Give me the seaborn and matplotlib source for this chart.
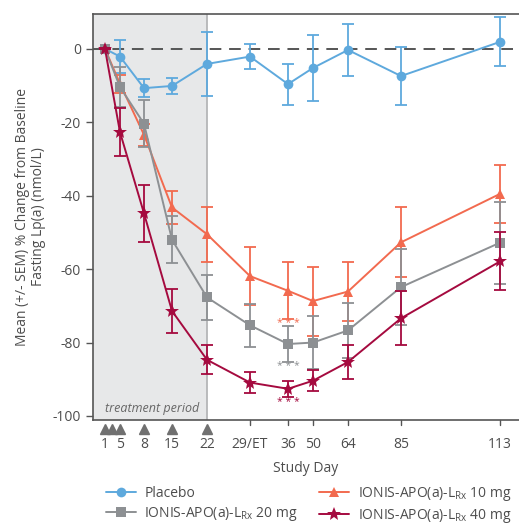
import numpy as np
import pandas as pd
import matplotlib
matplotlib.use("Agg")
import matplotlib.pyplot as plt
import seaborn as sns

# Dados (% de mudança média e SEM)
days = ["1", "5", "8", "15", "22", "29/ET", "36", "50", "64", "85", "113"]
placebo = [0, -2.1, -10.7, -10.1, -4.1, -2.1, -9.6, -5.2, -0.3, -7.4, 1.9]
placebo_sem = [0, 4.6, 2.4, 2.3, 8.7, 3.5, 5.6, 8.9, 7.0, 8.0, 6.7]
mg10 = [0, -9.5, -23.4, -43.2, -50.5, -61.9, -65.9, -68.7, -66.1, -52.7, -39.5]
mg10_sem = [0, 2.5, 3.0, 4.5, 7.5, 8.0, 7.8, 9.4, 8.0, 9.5, 7.9]
mg20 = [0, -10.4, -20.4, -52.0, -67.7, -75.3, -80.4, -80.0, -76.7, -64.9, -52.8]
mg20_sem = [0, 5.4, 6.4, 6.4, 6.2, 5.8, 4.9, 7.3, 7.4, 10.3, 11.2]
mg40 = [0, -22.7, -44.8, -71.4, -84.7, -90.9, -92.6, -90.4, -85.3, -73.4, -57.9]
mg40_sem = [0, 6.5, 7.7, 6.0, 3.9, 2.9, 2.1, 2.8, 4.6, 7.4, 7.9]
dose_days = ["1", "3", "5", "8", "15", "22"]

# Escala irregular do eixo x (posição de cada dia no eixo)
day_pos = {"1": 105, "3": 112, "5": 120, "8": 144, "15": 172, "22": 207,
           "29/ET": 250, "36": 288, "50": 313, "64": 348, "85": 401, "113": 500}

series = [
    ("Placebo", placebo, placebo_sem, "#5EA9DD", "o", 7),
    ("IONIS-APO(a)-L$_{\\mathregular{Rx}}$ 10 mg", mg10, mg10_sem, "#F26A4F", "^", 7),
    ("IONIS-APO(a)-L$_{\\mathregular{Rx}}$ 20 mg", mg20, mg20_sem, "#8D9093", "s", 6.5),
    ("IONIS-APO(a)-L$_{\\mathregular{Rx}}$ 40 mg", mg40, mg40_sem, "#A50A3F", "*", 10),
]

rows = []
for name, vals, sems, _, _, _ in series:
    for d, v, s in zip(days, vals, sems):
        rows.append({"grupo": name, "dia": day_pos[d], "media": v, "sem": s})
df = pd.DataFrame(rows)

sns.set_theme(style="ticks")
plt.rcParams["font.family"] = ["Open Sans", "DejaVu Sans"]
plt.rcParams["mathtext.fontset"] = "custom"
plt.rcParams["mathtext.rm"] = "Open Sans"
text_color = "#4D4D4D"

fig = plt.figure(figsize=(5.19, 5.26), dpi=100)
ax = fig.add_axes([93 / 519, 1 - 420 / 526, (519 - 93) / 519, (420 - 14) / 526])

# Período de tratamento
ax.axvspan(93, day_pos["22"], color="#E7E8E9", zorder=0, lw=0)
ax.axvline(day_pos["22"], color="#B5B6B8", lw=1.3, zorder=1)
ax.axhline(0, color="#555555", lw=1.4, ls=(0, (6, 4)), zorder=1)

for i, (name, vals, sems, c, m, ms) in enumerate(series):
    sub = df[df["grupo"] == name]
    ax.errorbar(sub["dia"], sub["media"], yerr=sub["sem"], fmt="none",
                ecolor=c, elinewidth=1.3, capsize=4.5, capthick=1.3, zorder=2 + i)
    sns.lineplot(data=sub, x="dia", y="media", color=c, marker=m,
                 markersize=ms, markeredgewidth=0, lw=1.4, ax=ax,
                 label=name, zorder=3 + i, legend=False)

# Asteriscos de significância no dia 36
for y, c in [(-74.8, "#F26A4F"), (-86.5, "#8D9093"), (-96.3, "#A50A3F")]:
    ax.text(day_pos["36"], y, "* * *", color=c, fontsize=7.5, ha="center", va="center")

ax.text(105, -98, "treatment period", style="italic", color="#666666",
        fontsize=9, ha="left", va="center")

# Triângulos das doses
ax.plot([day_pos[d] for d in dose_days], [-0.022] * len(dose_days), "^",
        color="#707070", ms=6.5, transform=ax.get_xaxis_transform(), clip_on=False)

ax.set_xlim(93, 519)
ax.set_ylim(-101.1, 9.5)
tick_days = ["29/ET", "36", "50", "64", "85", "113"]
ax.set_xticks([day_pos[d] for d in days])
ax.set_xticklabels(days)
ax.tick_params(axis="x", length=0, pad=12, labelsize=10, colors=text_color)
for d in tick_days:
    ax.plot([day_pos[d]] * 2, [0, -0.012], color="#555555", lw=1,
            transform=ax.get_xaxis_transform(), clip_on=False)
yt = [0, -20, -40, -60, -80, -100]
ax.set_yticks(yt)
ax.set_yticklabels([str(v) for v in yt])
ax.tick_params(axis="y", length=5, width=1, colors="#555555", labelcolor=text_color,
               labelsize=10)

for side in ["left", "bottom", "top"]:
    ax.spines[side].set_color("#555555")
    ax.spines[side].set_linewidth(1.2)
ax.spines["right"].set_visible(False)

ax.set_xlabel("Study Day", fontsize=10, color=text_color, labelpad=7)
ax.set_ylabel("Mean (+/- SEM) % Change from Baseline\nFasting Lp(a) (nmol/L)",
              fontsize=10, color=text_color, labelpad=5, linespacing=1.1)

hmap = {}
for h in ax.get_lines():
    lab = h.get_label()
    if not lab.startswith("_"):
        hmap[lab] = h
names = [s[0] for s in series]
order = [names[0], names[2], names[1], names[3]]
leg = fig.legend([hmap[n] for n in order], order, ncol=2, loc="upper left",
                 bbox_to_anchor=(100 / 519, 1 - 479 / 526), frameon=False,
                 fontsize=10, handlelength=2.2, columnspacing=1.5,
                 labelspacing=0.3, borderaxespad=0, handletextpad=0.6)
for t in leg.get_texts():
    t.set_color(text_color)

fig.savefig("out.png", dpi=100)
